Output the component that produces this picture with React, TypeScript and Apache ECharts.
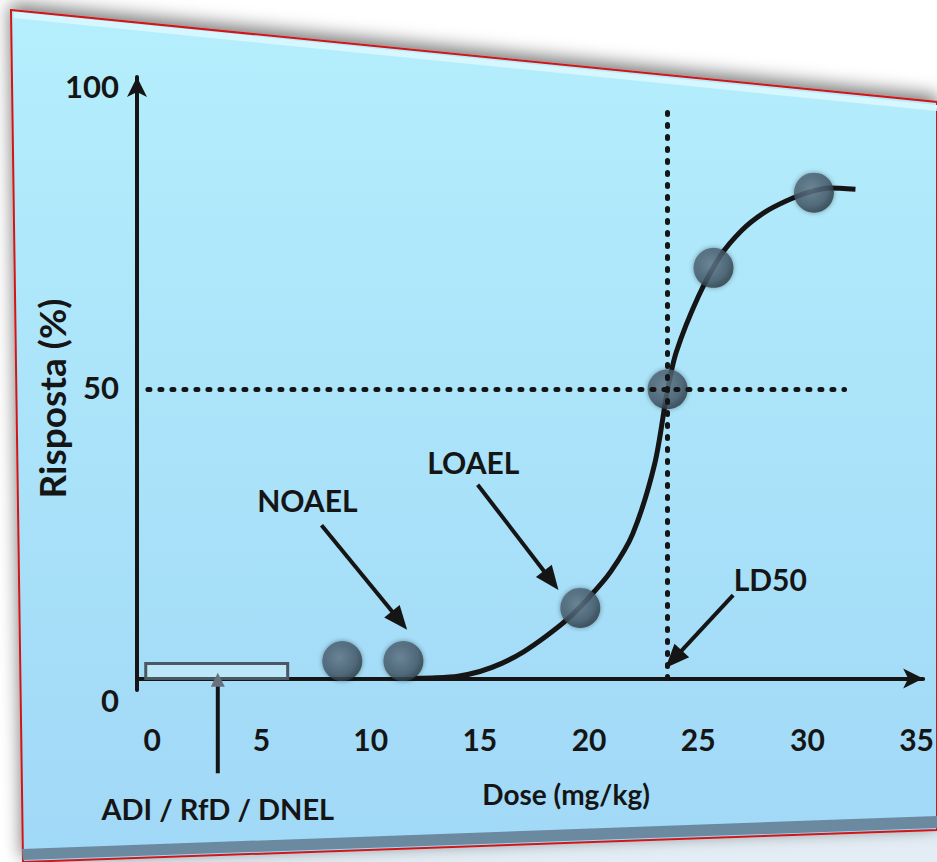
import React, { useEffect, useRef } from "react";
import * as echarts from "echarts";

// ---- data ----
const xTicks = [0, 5, 10, 15, 20, 25, 30, 35];
const yTicks = [0, 50, 100];
const curveDose = [12, 13, 14, 15, 16, 17, 18, 19, 20, 21, 22, 23, 23.6, 24, 25, 26, 27, 28, 29, 30, 31, 32.2];
const curveResp = [0, 0.1, 0.4, 1.2, 2.6, 4.6, 7.2, 10.2, 14, 18.5, 25, 37, 50, 56.5, 66, 73, 77.5, 80.5, 82.5, 84, 84.8, 84.6];
const pointDose = [8.7, 11.5, 19.6, 23.6, 25.7, 30.3];
const pointResp = [3, 3, 12.2, 50, 71, 84];
const ld50Dose = 23.6;
const ld50Resp = 50;
const adiRange = [-0.3, 6.2];
const adiTop = 2.6;
const adiDose = 3.0;

// annotation anchors (data coordinates)
const labels = [
  { text: "NOAEL", at: [7.1, 30.9], from: [7.75, 26.5], to: [11.67, 8.4] },
  { text: "LOAEL", at: [14.7, 37.4], from: [14.9, 33.5], to: [18.6, 15.3] },
  { text: "LD50", at: [28.3, 17.2], from: [26.6, 14.4], to: [23.5, 1.8] },
];

const FONT = "Lato, 'Open Sans', sans-serif";
const INK = "#151515";

export default function App() {
  const ref = useRef<HTMLDivElement>(null);

  useEffect(() => {
    if (!ref.current) return;
    const chart = echarts.init(ref.current, null, { renderer: "svg" });

    const bg: any[] = [
      // area below panel
      {
        type: "polygon",
        z: -20,
        shape: { points: [[23, 862], [937, 828], [937, 862]] },
        style: { fill: "#e4edf5" },
      },
      // panel
      {
        type: "polygon",
        z: -10,
        shape: { points: [[11, 10], [937, 102], [937, 830], [23, 862]] },
        style: {
          fill: new echarts.graphic.LinearGradient(0, 0, 0, 1, [
            { offset: 0, color: "#b5eefc" },
            { offset: 1, color: "#a0d8f7" },
          ]),
          stroke: "#d01818",
          lineWidth: 2,
          shadowBlur: 18,
          shadowColor: "rgba(0,0,0,0.55)",
          shadowOffsetY: -5,
        },
      },
      // top highlight
      {
        type: "polyline",
        z: -9,
        shape: { points: [[14, 15], [937, 108]] },
        style: { stroke: "#d6f7ff", lineWidth: 6 },
      },
      // bottom dark strip
      {
        type: "polygon",
        z: -9,
        shape: { points: [[22, 849], [937, 816], [937, 828], [23, 860]] },
        style: { fill: "#6b8aa0" },
      },
    ];

    const option: any = {
      animation: false,
      backgroundColor: "#ffffff",
      textStyle: { fontFamily: FONT, fontWeight: "bold", color: INK },
      grid: { left: 137, right: 12, top: 77, bottom: 172, containLabel: false },
      xAxis: {
        type: "value",
        min: -0.7,
        max: 35.3,
        name: "Dose (mg/kg)",
        nameLocation: "middle",
        nameGap: 90,
        nameMoveOverlap: false,
        nameTextStyle: { fontFamily: FONT, fontWeight: "bold", fontSize: 28, color: INK, padding: [0, 0, 0, 72] },
        axisLine: {
          onZero: true,
          symbol: ["none", "arrow"],
          symbolSize: [15, 20],
          lineStyle: { color: INK, width: 4 },
        },
        axisTick: { show: false },
        splitLine: { show: false },
        axisLabel: {
          customValues: xTicks,
          margin: 34,
          fontFamily: FONT,
          fontWeight: "bold",
          fontSize: 30,
          color: INK,
        },
      },
      yAxis: {
        type: "value",
        min: -2,
        max: 104,
        name: "Risposta (%)",
        nameLocation: "middle",
        nameGap: 67,
        nameMoveOverlap: false,
        nameRotate: 90,
        nameTextStyle: { fontFamily: FONT, fontWeight: "bold", fontSize: 37, color: INK, padding: [0, 30, 0, 0] },
        axisLine: {
          onZero: false,
          symbol: ["none", "arrow"],
          symbolSize: [15, 20],
          lineStyle: { color: INK, width: 4 },
        },
        axisTick: { show: false },
        splitLine: { show: false },
        axisLabel: {
          customValues: yTicks,
          margin: 18,
          fontFamily: FONT,
          fontWeight: "bold",
          fontSize: 31,
          color: INK,
          formatter: (v: number) => (v === 0 ? "{d|0}" : v === 100 ? "{u|100}" : "{n|" + v + "}"),
          rich: {
            d: { fontFamily: FONT, fontWeight: "bold", fontSize: 31, color: INK, padding: [44, 0, 0, 0] },
            u: { fontFamily: FONT, fontWeight: "bold", fontSize: 31, color: INK, padding: [0, 0, 28, 0] },
            n: { fontFamily: FONT, fontWeight: "bold", fontSize: 31, color: INK, padding: [0, 0, 4, 0] },
          },
        },
      },
      series: [
        {
          type: "line",
          name: "curve",
          z: 3,
          smooth: 0.3,
          showSymbol: false,
          symbol: "none",
          lineStyle: { color: INK, width: 5 },
          data: curveDose.map((d, i) => [d, curveResp[i]]),
          markArea: {
            silent: true,
            itemStyle: { color: "rgba(205,238,250,0.6)", borderColor: "#4a5864", borderWidth: 3 },
            data: [[{ coord: [adiRange[0], 0] }, { coord: [adiRange[1], adiTop] }]],
          },
        },
        {
          type: "scatter",
          name: "points",
          z: 4,
          symbolSize: 40,
          itemStyle: {
            color: new echarts.graphic.RadialGradient(0.42, 0.4, 0.62, [
              { offset: 0, color: "#647b8d" },
              { offset: 0.7, color: "#465b6b" },
              { offset: 1, color: "#2a3842" },
            ]),
            shadowBlur: 5,
            shadowColor: "rgba(0,0,0,0.45)",
          },
          data: pointDose.map((d, i) => [d, pointResp[i]]),
        },
        {
          type: "line",
          name: "guides",
          z: 5,
          data: [],
          markLine: {
            silent: true,
            symbol: ["none", "none"],
            label: { show: false },
            lineStyle: { color: INK, width: 5, type: [2, 10], cap: "round" },
            data: [
              [{ coord: [-0.2, ld50Resp] }, { coord: [31.7, ld50Resp] }],
              [{ coord: [ld50Dose, 0] }, { coord: [ld50Dose, 99] }],
            ],
          },
        },
      ],
      graphic: { elements: bg },
    };

    chart.setOption(option);

    const px = (p: number[]) => chart.convertToPixel({ gridIndex: 0 } as any, p) as number[];

    const arrow = (p0: number[], p1: number[], color: string, headLen: number, headW: number, width: number, headColor?: string) => {
      const dx = p1[0] - p0[0];
      const dy = p1[1] - p0[1];
      const L = Math.hypot(dx, dy);
      const ux = dx / L;
      const uy = dy / L;
      const bx = p1[0] - ux * headLen;
      const by = p1[1] - uy * headLen;
      const nx = -uy;
      const ny = ux;
      return [
        {
          type: "line",
          z: 10,
          shape: { x1: p0[0], y1: p0[1], x2: bx + ux * 2, y2: by + uy * 2 },
          style: { stroke: color, lineWidth: width },
        },
        {
          type: "polygon",
          z: 10,
          shape: {
            points: [
              [p1[0], p1[1]],
              [bx + (nx * headW) / 2, by + (ny * headW) / 2],
              [bx - (nx * headW) / 2, by - (ny * headW) / 2],
            ],
          },
          style: { fill: headColor || color },
        },
      ];
    };

    const ann: any[] = [];
    labels.forEach((l) => {
      const c = px(l.at);
      ann.push({
        type: "text",
        z: 10,
        x: c[0],
        y: c[1],
        style: {
          text: l.text,
          fill: INK,
          fontFamily: FONT,
          fontWeight: "bold",
          fontSize: 30,
          align: "center",
          verticalAlign: "middle",
        },
      });
      ann.push(...arrow(px(l.from), px(l.to), INK, 24, 20, 4));
    });
    // ADI / RfD / DNEL arrow and label
    ann.push(...arrow(px([adiDose, -16.4]), px([adiDose, 1]), INK, 14, 14, 4, "#66737e"));
    const adiC = px([adiDose, -22.5]);
    ann.push({
      type: "text",
      z: 10,
      x: adiC[0],
      y: adiC[1],
      style: {
        text: "ADI / RfD / DNEL",
        fill: INK,
        fontFamily: FONT,
        fontWeight: "bold",
        fontSize: 29,
        align: "center",
        verticalAlign: "middle",
      },
    });

    chart.setOption({ graphic: { elements: [...bg, ...ann] } });

    return () => chart.dispose();
  }, []);

  return (
    <div
      ref={ref}
      style={{ position: "fixed", left: 0, top: 0, width: 937, height: 862 }}
    />
  );
}
